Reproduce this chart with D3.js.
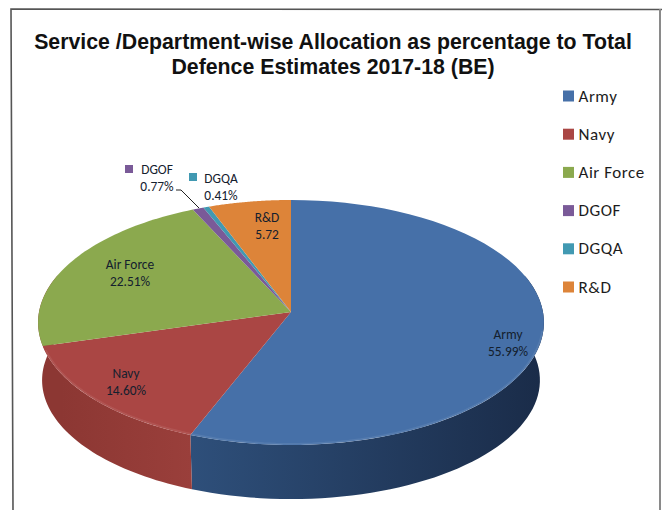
<!DOCTYPE html>
<html>
<head>
<meta charset="utf-8">
<script src="https://cdn.jsdelivr.net/npm/d3@7"></script>
<style>
    html, body { margin: 0; padding: 0; background: #fff; }
    svg { display: block; }
</style>
</head>
<body>
<svg id="chart" width="662" height="510"></svg>
<script>
const categories = ['Army', 'Navy', 'Air Force', 'DGOF', 'DGQA', 'R&D']
const shares = [55.99, 14.60, 22.51, 0.77, 0.41, 5.72]
const shareLabels = ['55.99%', '14.60%', '22.51%', '0.77%', '0.41%', '5.72']
const titleLines = [
    'Service /Department-wise Allocation as percentage to Total',
    'Defence Estimates 2017-18 (BE)'
]

const colours = ['#4670a8', '#aa4644', '#8ba94e', '#7a5a98', '#4199b2', '#dd8439']
const sideColours = [
    ['#2e4f7a', '#1a2c49'],
    ['#8c3733', '#9a3f3b']
]

const cx = 291
const apexY = 312
const persp = 0.0857
const topRim = { a: 252, b: 121.6, drop: 0 }
const bottomRim = { a: 248, b: 118, drop: 58 }

const labelFont = 'Carlito, Lato, "Open Sans", sans-serif'

const svg = d3.select('#chart')
const defs = svg.append('defs')

// frame of the scanned chart
svg.append('path')
    .attr('d', 'M13,510 L11,9 L662,9.5')
    .attr('fill', 'none')
    .attr('stroke', '#555')
    .attr('stroke-width', 1.6)
svg.append('line')
    .attr('x1', 660).attr('y1', 9)
    .attr('x2', 660).attr('y2', 510)
    .attr('stroke', '#8a8a8a')
    .attr('stroke-width', 2)

svg.append('g')
    .attr('font-family', '"Liberation Sans", Arial, sans-serif')
    .attr('font-weight', 'bold')
    .attr('font-size', 21.3)
    .attr('text-anchor', 'middle')
    .attr('fill', '#111')
    .selectAll('text')
    .data(titleLines)
    .join('text')
    .attr('x', 333)
    .attr('y', (d, i) => 48.5 + i * 25)
    .text(d => d)

const pie = d3.pie().sort(null).value(d => d)
const slices = pie(shares)

// circle in the plane seen with a little perspective, near edge is bigger
const point = (angle, rim) => {
    const u = Math.sin(angle)
    const v = Math.cos(angle)
    const w = 1 + persp * v
    return [cx + rim.a * u / w, apexY + rim.drop - rim.b * v / w]
}
const sweep = (from, to, n = 60) => d3.range(0, n + 1).map(k => from + (to - from) * k / n)

const pieLine = d3.line()

// side wall, top face is painted over whatever it covers.
// only the first two slices show a wall, the navy one runs on round the left edge
const wallStart = Math.PI * 0.4
const wallEnd = Math.PI * 1.6
const wall = svg.append('g')
slices.slice(0, sideColours.length).forEach((s, i) => {
    const from = Math.max(s.startAngle, wallStart)
    const to = i === sideColours.length - 1 ? wallEnd : s.endAngle

    const gradId = `side-${i}`
    const grad = defs.append('linearGradient')
        .attr('id', gradId)
        .attr('gradientUnits', 'userSpaceOnUse')
        .attr('x1', point(to, bottomRim)[0]).attr('x2', point(Math.max(from, Math.PI / 2), bottomRim)[0])
        .attr('y1', 0).attr('y2', 0)
    grad.append('stop').attr('offset', 0).attr('stop-color', sideColours[i][0])
    grad.append('stop').attr('offset', 1).attr('stop-color', sideColours[i][1])

    const steps = sweep(from, to)
    const outline = steps.map(a => point(a, topRim))
        .concat(steps.slice().reverse().map(a => point(a, bottomRim)))
    wall.append('path')
        .attr('d', pieLine(outline) + 'Z')
        .attr('fill', `url(#${gradId})`)
})

// top face
const apex = [cx, apexY]
svg.append('g')
    .selectAll('path')
    .data(slices)
    .join('path')
    .attr('d', d => pieLine([apex, ...sweep(d.startAngle, d.endAngle).map(a => point(a, topRim))]) + 'Z')
    .attr('fill', (d, i) => colours[i])

// light bevel where the top face meets the wall, front part only
svg.append('path')
    .attr('d', pieLine(sweep(Math.PI * 0.55, Math.PI * 1.4).map(a => point(a, { ...topRim, a: topRim.a - 1, b: topRim.b - 1 }))))
    .attr('fill', 'none')
    .attr('stroke', '#fff')
    .attr('stroke-opacity', 0.08)
    .attr('stroke-width', 2)

// data labels
const labelAt = [[508, 334], [126, 373], [130, 264], [157, 169], [221, 178], [267, 217]]
const labels = svg.append('g')
    .attr('font-family', labelFont)
    .attr('font-size', 13.4)
    .attr('text-anchor', 'middle')
    .attr('fill', '#14202e')
    .selectAll('g')
    .data(categories)
    .join('g')
    .attr('transform', (d, i) => `translate(${labelAt[i]})`)
labels.append('text').attr('y', 4.5).text(d => d)
labels.append('text').attr('y', 21.5).text((d, i) => shareLabels[i])

// key squares next to the two small labels
svg.selectAll('rect.key')
    .data([3, 4])
    .join('rect')
    .attr('class', 'key')
    .attr('x', d => d === 3 ? 125 : 189)
    .attr('y', d => d === 3 ? 165 : 173)
    .attr('width', 8)
    .attr('height', 8)
    .attr('fill', d => colours[d])

svg.append('path')
    .attr('d', d3.line()([[176, 190], [181, 190], [199, 208]]))
    .attr('fill', 'none')
    .attr('stroke', '#222')
    .attr('stroke-width', 1)

// legend
const legend = svg.append('g')
    .selectAll('g')
    .data(categories)
    .join('g')
    .attr('transform', (d, i) => `translate(563,${96 + i * 38.2})`)
legend.append('rect')
    .attr('x', 0).attr('y', -5.5)
    .attr('width', 11).attr('height', 11)
    .attr('fill', (d, i) => colours[i])
legend.append('text')
    .attr('x', 15.5).attr('y', 5.5)
    .attr('font-family', labelFont)
    .attr('font-size', 17)
    .attr('letter-spacing', 0.55)
    .attr('fill', '#1c1c1c')
    .text(d => d)
</script>
</body>
</html>
